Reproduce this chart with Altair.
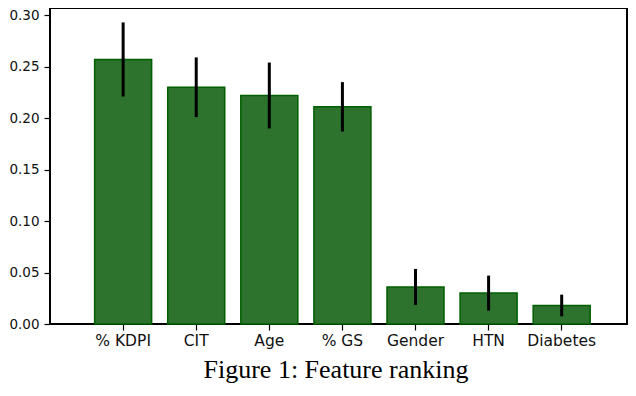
import altair as alt
import pandas as pd

features = ["% KDPI", "CIT", "Age", "% GS", "Gender", "HTN", "Diabetes"]
importance = [0.257, 0.230, 0.222, 0.211, 0.036, 0.030, 0.018]
errors = [0.036, 0.029, 0.032, 0.024, 0.0175, 0.017, 0.0105]
y_ticks = [0.00, 0.05, 0.10, 0.15, 0.20, 0.25, 0.30]
caption = "Figure 1: Feature ranking"

df = pd.DataFrame({"feature": features, "importance": importance, "err": errors})
df["lo"] = df["importance"] - df["err"]
df["hi"] = df["importance"] + df["err"]

x_enc = alt.X(
    "feature:N",
    sort=features,
    scale=alt.Scale(paddingInner=0.22, paddingOuter=0.557, align=0.548),
    axis=alt.Axis(
        title=None, labelAngle=0, labelFont="DejaVu Sans", labelFontSize=15.5,
        labelColor="#111", tickSize=6, tickColor="black", tickWidth=1.2,
        labelPadding=3, domain=False,
    ),
)
y_scale = alt.Scale(domain=[0, 0.307], nice=False, zero=True)

bars = alt.Chart(df).mark_bar(
    color="#2d722d", stroke="#005f00", strokeWidth=1.5
).encode(
    x=x_enc,
    y=alt.Y(
        "importance:Q", scale=y_scale,
        axis=alt.Axis(
            title=None, values=y_ticks, format=".2f", grid=False,
            labelFont="DejaVu Sans", labelFontSize=13.5, labelColor="#111",
            tickSize=6, tickColor="black", tickWidth=1.2, labelPadding=5,
            domain=False,
        ),
    ),
)

errs = alt.Chart(df).mark_rule(color="black", strokeWidth=3).encode(
    x=alt.X("feature:N", sort=features),
    y=alt.Y("lo:Q", scale=y_scale),
    y2="hi:Q",
)

cap = alt.Chart(pd.DataFrame({"t": [caption]})).mark_text(
    font="Liberation Serif", fontSize=26, color="black",
    align="center", baseline="alphabetic",
).encode(text="t:N", x=alt.value(286), y=alt.value(370))

chart = alt.layer(bars, errs, cap).properties(
    width=577, height=316,
    autosize=alt.AutoSizeParams(type="none"),
    padding={"left": 42, "top": 0, "right": 1, "bottom": 60},
).configure_view(stroke="black", strokeWidth=2)

chart.save("out.html", embed_options={"renderer": "svg", "actions": False})
